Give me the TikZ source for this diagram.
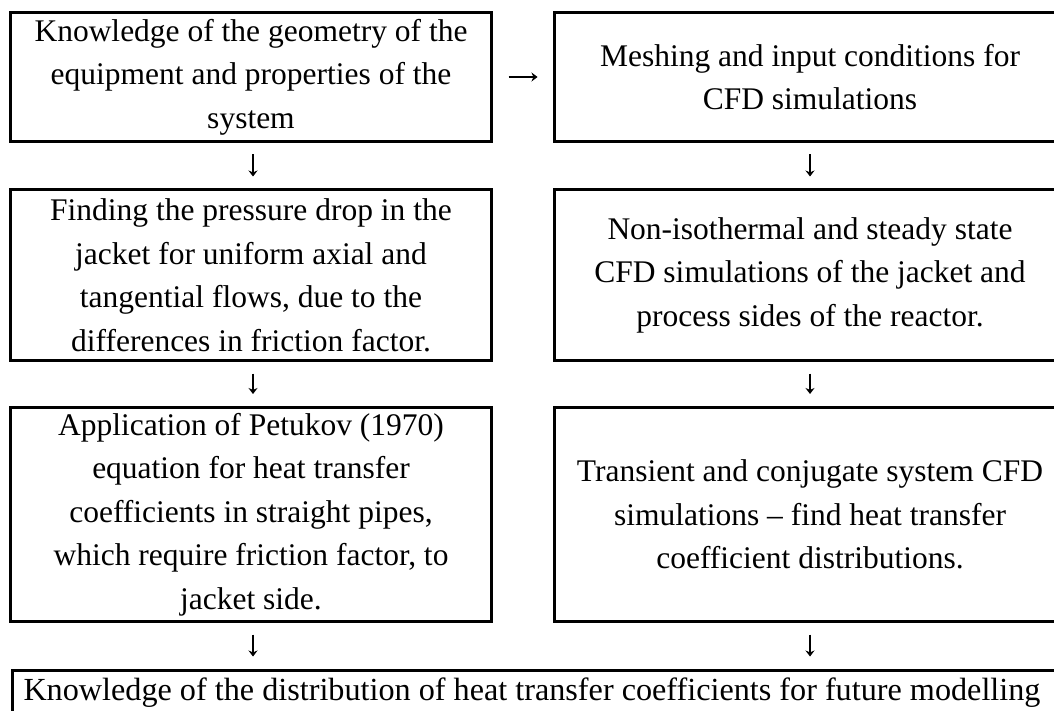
\documentclass[tikz,border=0pt]{standalone}
\usepackage{fontspec}
\setmainfont{Liberation Serif}
\usetikzlibrary{arrows.meta}
\begin{document}
\begin{tikzpicture}[x=1pt,y=-1pt,
  txt/.style={font=\fontsize{31.5}{43.5}\selectfont},
  box/.style={txt, draw, line width=3pt, align=center, inner sep=0pt},
  leftbox/.style={box, minimum width=481pt},
  rightbox/.style={box, minimum width=512pt},
  arr/.style={line width=1.2pt, -{Stealth[length=6pt,width=9pt]}}]
\useasboundingbox (0,0) rectangle (1054,711);
\clip (0,0) rectangle (1054,711);
% row 1
\node[leftbox, minimum height=129pt] (b1) at (251,77)
  {Knowledge of the geometry of the\\equipment and properties of the\\system};
\node[rightbox, minimum height=129pt] (b2) at (810,77)
  {Meshing and input conditions for\\CFD simulations};
% row 2
\node[leftbox, minimum height=170.5pt] (b3) at (251,275.25)
  {Finding the pressure drop in the\\jacket for uniform axial and\\tangential flows, due to the\\differences in friction factor.};
\node[rightbox, minimum height=170.5pt] (b4) at (810,275.25)
  {Non-isothermal and steady state\\CFD simulations of the jacket and\\process sides of the reactor.};
% row 3
\node[leftbox, minimum height=214pt] (b5) at (251,514.5)
  {Application of Petukov (1970)\\equation for heat transfer\\coefficients in straight pipes,\\which require friction factor, to\\jacket side.};
\node[rightbox, minimum height=214pt] (b6) at (810,514.5)
  {Transient and conjugate system CFD\\simulations -- find heat transfer\\coefficient distributions.};
% bottom
\node[draw, line width=3pt, inner ysep=0pt, inner xsep=11.5pt, anchor=north west,
      font=\fontsize{32.2}{43.5}\selectfont,
      text height=30pt, text depth=62pt] (b7) at (10.5,668.5)
  {\makebox[1040pt][l]{Knowledge of the distribution of heat transfer coefficients for future modelling}};
% connectors
\draw[arr] ([xshift=15.5pt]b1.east) -- ([xshift=-15pt]b2.west);
\draw[arr] ([xshift=2pt,yshift=-11.5pt]b1.south) -- ([xshift=2pt,yshift=12pt]b3.north);
\draw[arr] ([yshift=-11.5pt]b2.south) -- ([yshift=12pt]b4.north);
\draw[arr] ([xshift=2pt,yshift=-11.5pt]b3.south) -- ([xshift=2pt,yshift=12pt]b5.north);
\draw[arr] ([yshift=-11.5pt]b4.south) -- ([yshift=12pt]b6.north);
\coordinate (e5) at (b5.south |- b7.north);
\coordinate (e6) at (b6.south |- b7.north);
\draw[arr] ([xshift=2pt,yshift=-11.5pt]b5.south) -- ([xshift=2pt,yshift=12pt]e5);
\draw[arr] ([yshift=-11.5pt]b6.south) -- ([yshift=12pt]e6);
\end{tikzpicture}
\end{document}
